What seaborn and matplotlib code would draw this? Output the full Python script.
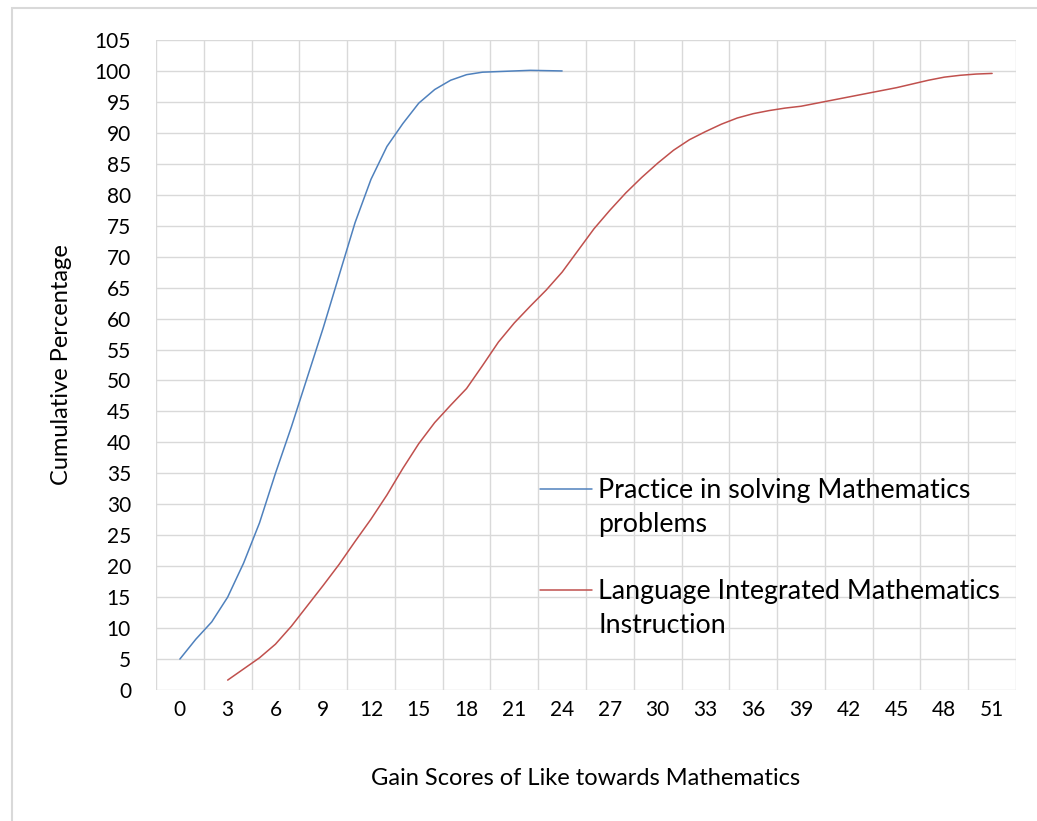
import matplotlib
matplotlib.use("Agg")
import matplotlib.pyplot as plt
import seaborn as sns
import numpy as np
import pandas as pd
from matplotlib.lines import Line2D
from matplotlib.legend_handler import HandlerLine2D
from matplotlib.patches import Rectangle

# Cumulative percentage by gain score
practice_x = list(range(0, 25))
practice_pct = [5.0, 8.2, 11.0, 15.0, 20.5, 27.0, 35.0, 42.5, 50.5, 58.5,
                67.0, 75.5, 82.5, 87.8, 91.5, 94.8, 97.0, 98.5, 99.4, 99.8,
                99.9, 100.0, 100.1, 100.05, 100.0]

language_x = list(range(3, 52))
language_pct = [1.6, 3.4, 5.2, 7.4, 10.3, 13.6, 16.9, 20.3, 24.0, 27.6,
                31.5, 35.8, 39.8, 43.2, 46.0, 48.7, 52.4, 56.2, 59.3, 62.0,
                64.6, 67.5, 71.0, 74.5, 77.5, 80.3, 82.8, 85.1, 87.2, 88.9,
                90.2, 91.4, 92.4, 93.1, 93.6, 94.0, 94.3, 94.8, 95.3, 95.8,
                96.3, 96.8, 97.3, 97.9, 98.5, 99.0, 99.3, 99.5, 99.6]

series_names = ["Practice in solving Mathematics\nproblems",
                "Language Integrated Mathematics\nInstruction"]
series_colors = ["#4F81BD", "#C0504D"]
x_ticks = list(range(0, 52, 3))
y_ticks = list(range(0, 106, 5))

df = pd.concat([
    pd.DataFrame({"score": practice_x, "pct": practice_pct, "series": series_names[0]}),
    pd.DataFrame({"score": language_x, "pct": language_pct, "series": series_names[1]}),
])


class FirstLineHandler(HandlerLine2D):
    """Put the legend line next to the first line of a wrapped label."""
    def __init__(self, shift, **kw):
        super().__init__(**kw)
        self.shift = shift

    def create_artists(self, legend, orig_handle, xdescent, ydescent, width,
                       height, fontsize, trans):
        artists = super().create_artists(legend, orig_handle, xdescent, ydescent,
                                         width, height, fontsize, trans)
        for a in artists:
            a.set_ydata(np.asarray(a.get_ydata()) + self.shift)
        return artists


sns.set_theme(style="white")
plt.rcParams["font.family"] = ["Lato", "DejaVu Sans"]

fig = plt.figure(figsize=(10.37, 8.21), dpi=100)
ax = fig.add_axes([156 / 1037, 1 - 690 / 821, 860 / 1037, 650 / 821])

sns.lineplot(data=df, x="score", y="pct", hue="series", hue_order=series_names,
             palette=series_colors, linewidth=1.1, ax=ax, legend=False)

ax.set_xlim(-1.5, 52.5)
ax.set_ylim(0, 105)
ax.set_xticks(x_ticks)
ax.set_xticks(np.arange(-1.5, 53, 3), minor=True)
ax.set_yticks(y_ticks)
ax.grid(False)
ax.grid(True, which="minor", axis="x", color="#d9d9d9", linewidth=1)
ax.grid(True, which="major", axis="y", color="#d9d9d9", linewidth=1)
ax.set_axisbelow(True)
for s in ax.spines.values():
    s.set_visible(False)
ax.tick_params(axis="both", which="both", length=0, labelsize=15, colors="black")
ax.tick_params(axis="x", pad=7)
ax.tick_params(axis="y", pad=18)

ax.set_xlabel("Gain Scores of Like towards Mathematics", fontsize=17, color="black")
ax.set_ylabel("Cumulative Percentage", fontsize=17, color="black")
ax.xaxis.set_label_coords(0.5, -0.12)
ax.yaxis.set_label_coords(-0.098, 0.5)

handles = ax.get_lines()[:2]
leg = ax.legend(handles=handles, labels=series_names,
                handler_map={Line2D: FirstLineHandler(shift=13.5)},
                loc="upper left", bbox_to_anchor=(540 / 1037, 1 - 478 / 821),
                bbox_transform=fig.transFigure, frameon=False, fontsize=19.3,
                handlelength=1.95, handletextpad=0.22, labelspacing=1.55,
                borderpad=0, borderaxespad=0)
for t in leg.get_texts():
    t.set_color("black")
    t.set_linespacing(1.45)

# light chart-area border
fig.patches.append(Rectangle((12 / 1037, -0.05), 1.1, 1 - 8 / 821 + 0.05,
                             transform=fig.transFigure, fill=False,
                             edgecolor="#d9d9d9", linewidth=1.5))

fig.savefig("out.png", dpi=100)
plt.close(fig)
